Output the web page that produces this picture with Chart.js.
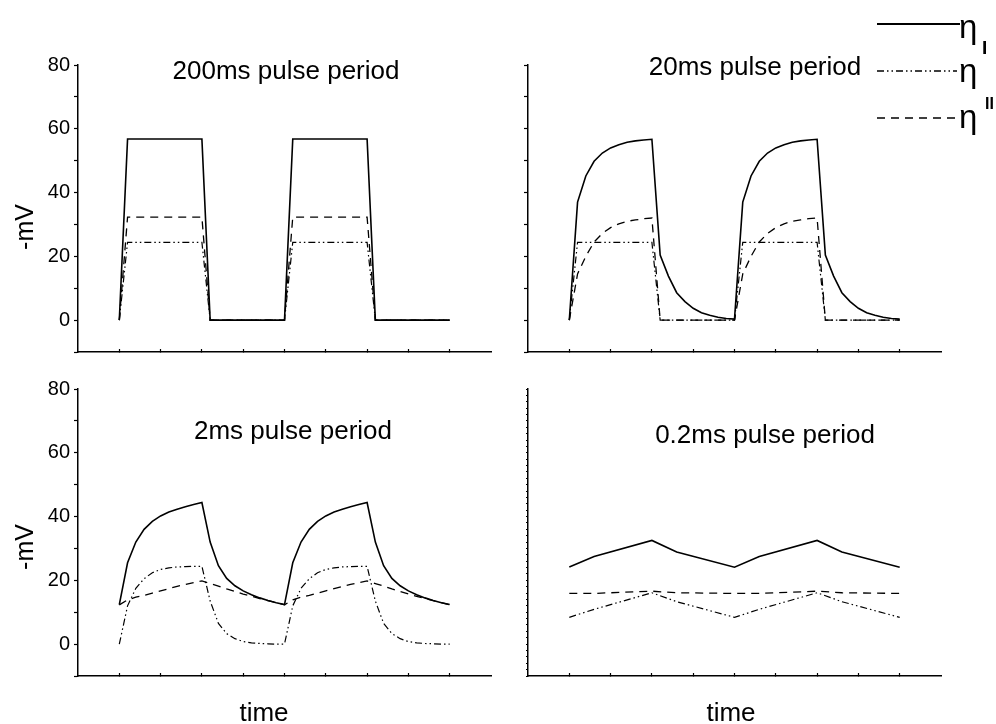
<!DOCTYPE html>
<html><head><meta charset="utf-8">
<script src="https://cdn.jsdelivr.net/npm/chart.js@4.4.1/dist/chart.umd.min.js"></script>
<style>
html,body{margin:0;padding:0;background:#fff;}
#wrap{position:relative;width:996px;height:724px;overflow:hidden;background:#fff;}
canvas{position:absolute;}
</style></head><body>
<div id="wrap">
<canvas id="c1" width="510" height="370" style="left:0px;top:0px"></canvas>
<canvas id="c2" width="486" height="370" style="left:510px;top:0px"></canvas>
<canvas id="c3" width="510" height="354" style="left:0px;top:370px"></canvas>
<canvas id="c4" width="486" height="354" style="left:510px;top:370px"></canvas>
</div>
<script>
// ---------- data ----------
const seriesNames = ["η_I", "η'", "η''"];
const panelTitles = ["200ms pulse period", "20ms pulse period", "2ms pulse period", "0.2ms pulse period"];
const yTickLabels = [0, 20, 40, 60, 80];

// 200 ms pulse period
const t200 = [0, 0.2, 2.0, 2.2, 4.0, 4.2, 6.0, 6.2, 8.0];
const p200EtaI  = [0, 56.8, 56.8, 0, 0, 56.8, 56.8, 0, 0];
const p200EtaP  = [0, 24.4, 24.4, 0, 0, 24.4, 24.4, 0, 0];
const p200EtaPP = [0, 32.3, 32.3, 0, 0, 32.3, 32.3, 0, 0];

// 20 ms and 2 ms pulse periods (sampled every 0.2 time units)
const tFine = [0,0.2,0.4,0.6,0.8,1.0,1.2,1.4,1.6,1.8,2.0,2.2,2.4,2.6,2.8,3.0,3.2,3.4,3.6,3.8,4.0,
               4.2,4.4,4.6,4.8,5.0,5.2,5.4,5.6,5.8,6.0,6.2,6.4,6.6,6.8,7.0,7.2,7.4,7.6,7.8,8.0];

const p20EtaI = [0,37,45.2,49.8,52.4,54.0,55.0,55.8,56.2,56.5,56.7,20.4,13.8,8.6,5.8,3.7,2.3,1.5,0.9,0.5,0.3,
                 37,45.2,49.8,52.4,54.0,55.0,55.8,56.2,56.5,56.7,20.4,13.8,8.6,5.8,3.7,2.3,1.5,0.9,0.5,0.3];
const p20EtaP = [0,24.4,24.4,24.4,24.4,24.4,24.4,24.4,24.4,24.4,24.4,0,0,0,0,0,0,0,0,0,0,
                 24.4,24.4,24.4,24.4,24.4,24.4,24.4,24.4,24.4,24.4,0,0,0,0,0,0,0,0,0,0];
const p20EtaPP = [0,14.5,20,24.5,27.2,29,30.2,31,31.4,31.8,32,0,0,0,0,0,0,0,0,0,0,
                  14.5,20,24.5,27.2,29,30.2,31,31.4,31.8,32,0,0,0,0,0,0,0,0,0,0];

const p2EtaI = [12.4,25.5,32,36,38.5,40.2,41.4,42.3,43.1,43.8,44.4,32,24.6,20.6,18.3,16.7,15.5,14.5,13.7,13.0,12.4,
                25.5,32,36,38.5,40.2,41.4,42.3,43.1,43.8,44.4,32,24.6,20.6,18.3,16.7,15.5,14.5,13.7,13.0,12.4];
const p2EtaP = [0,12,17.5,20.5,22.4,23.4,23.9,24.2,24.3,24.4,24.4,13.5,6.5,3.3,1.7,0.8,0.4,0.2,0.1,0,0,
                12,17.5,20.5,22.4,23.4,23.9,24.2,24.3,24.4,24.4,13.5,6.5,3.3,1.7,0.8,0.4,0.2,0.1,0,0];
const p2EtaPP = [12.3,13.9,14.7,15.3,16.0,16.7,17.4,18.1,18.7,19.3,19.8,19.0,18.2,17.3,16.5,15.7,15.0,14.3,13.6,13.0,12.3,
                 13.9,14.7,15.3,16.0,16.7,17.4,18.1,18.7,19.3,19.8,19.0,18.2,17.3,16.5,15.7,15.0,14.3,13.6,13.0,12.3];

// 0.2 ms pulse period
const t02 = [0, 0.6, 2.0, 2.6, 4.0, 4.6, 6.0, 6.6, 8.0];
const p02EtaI  = [24.2, 27.5, 32.5, 28.9, 24.1, 27.5, 32.5, 28.9, 24.1];
const p02EtaP  = [8.4, 10.9, 16.1, 13.3, 8.4, 10.9, 16.1, 13.3, 8.4];
const p02EtaPP = [15.9, 15.9, 16.6, 16.1, 15.9, 15.9, 16.6, 16.1, 15.9];

// ---------- styling ----------
const FONT = '"Liberation Sans", Arial, Helvetica, sans-serif';
const styles = [
  {borderColor:'#000', borderWidth:1.6, borderDash:[]},
  {borderColor:'#000', borderWidth:1.2, borderDash:[7,3,1.5,3,1.5,3]},
  {borderColor:'#000', borderWidth:1.3, borderDash:[8,6]}
];

function pts(t, v){ return t.map((x,i)=>({x:x, y:v[i]})); }

function textPlugin(id, items){
  return {id:id, afterDraw(chart){
    const ctx = chart.ctx;
    items.forEach(it=>{
      ctx.save();
      ctx.fillStyle = '#000';
      ctx.font = it.font;
      ctx.textAlign = it.align || 'left';
      ctx.textBaseline = 'alphabetic';
      ctx.translate(it.x, it.y);
      if (it.rot) ctx.rotate(it.rot);
      ctx.fillText(it.text, 0, 0);
      ctx.restore();
    });
  }};
}

function legendPlugin(){
  return {id:'etaLegend', afterDraw(chart){
    const ctx = chart.ctx;
    const rows = [
      {y:24, x0:367, x1:450, s:styles[0], lw:2.2, ty:38},
      {y:71, x0:367, x1:447, s:styles[1], lw:1.3, ty:82},
      {y:118, x0:367, x1:447, s:styles[2], lw:1.4, ty:128}
    ];
    rows.forEach(r=>{
      ctx.save();
      ctx.strokeStyle = '#000';
      ctx.lineWidth = r.lw;
      ctx.setLineDash(r.s.borderDash);
      ctx.beginPath(); ctx.moveTo(r.x0, r.y); ctx.lineTo(r.x1, r.y); ctx.stroke();
      ctx.restore();
      ctx.save();
      ctx.fillStyle = '#000';
      ctx.font = '33px ' + FONT;
      ctx.textBaseline = 'alphabetic';
      ctx.fillText('η', 449, r.ty);
      ctx.restore();
    });
    ctx.save();
    ctx.fillStyle = '#000';
    ctx.font = 'bold 19px ' + FONT;
    ctx.fillText('I', 472, 54);
    ctx.font = 'bold 16px ' + FONT;
    ctx.fillText('II', 475, 109);
    ctx.restore();
  }};
}

function makePanel(id, t, eI, eP, ePP, cfg){
  const ds = [
    Object.assign({label:seriesNames[2], data:pts(t, ePP)}, styles[2]),
    Object.assign({label:seriesNames[1], data:pts(t, eP)}, styles[1]),
    Object.assign({label:seriesNames[0], data:pts(t, eI)}, styles[0])
  ];
  ds.forEach(d=>{ d.pointRadius = 0; d.fill = false; d.tension = 0; });
  return new Chart(document.getElementById(id), {
    type:'line',
    data:{datasets:ds},
    options:{
      responsive:false, animation:false, devicePixelRatio:1,
      layout:{autoPadding:false, padding:cfg.padding},
      plugins:{legend:{display:false}, tooltip:{enabled:false}, title:{display:false}},
      scales:{
        x:{type:'linear', min:-1, max:9,
           ticks:{count:11, display:false, autoSkip:false},
           grid:{drawOnChartArea:false, drawTicks:true, tickLength:-3, tickWidth:1.2,
                 tickColor:(c)=> (c.tick && c.tick.value > -0.5 && c.tick.value < 8.5) ? '#000' : 'rgba(0,0,0,0)'},
           border:{display:true, color:'#000', width:1.5},
           afterFit:(s)=>{ s.height = 0; }},
        y:{type:'linear', min:-10, max:80,
           ticks:{count:cfg.yCount, display:cfg.labels, autoSkip:false, color:'#000', padding:4,
                  font:{family:FONT, size:20},
                  callback:(v)=>{ const r = Math.round(v); return yTickLabels.includes(r) && Math.abs(v-r)<1e-6 ? String(r) : ''; }},
           grid:{drawOnChartArea:false, drawTicks:true, tickLength:cfg.tickLen, tickWidth:1.2, tickColor:'#000'},
           border:{display:true, color:'#000', width:1.5},
           afterFit:(s)=>{ s.width = cfg.yW; }}
      }
    },
    plugins: cfg.plugins
  });
}

makePanel('c1', t200, p200EtaI, p200EtaP, p200EtaPP, {
  padding:{left:0, top:65, right:19, bottom:18}, yW:78, yCount:10, labels:true, tickLen:4,
  plugins:[textPlugin('t1', [
    {text:panelTitles[0], x:286, y:79, align:'center', font:'26px '+FONT},
    {text:'-mV', x:33, y:227, align:'center', rot:-Math.PI/2, font:'25px '+FONT}
  ])]
});
makePanel('c2', tFine, p20EtaI, p20EtaP, p20EtaPP, {
  padding:{left:0, top:65, right:55, bottom:18}, yW:18, yCount:10, labels:false, tickLen:4,
  plugins:[textPlugin('t2', [
    {text:panelTitles[1], x:245, y:75, align:'center', font:'26px '+FONT}
  ]), legendPlugin()]
});
makePanel('c3', tFine, p2EtaI, p2EtaP, p2EtaPP, {
  padding:{left:0, top:19, right:19, bottom:48}, yW:78, yCount:10, labels:true, tickLen:4,
  plugins:[textPlugin('t3', [
    {text:panelTitles[2], x:293, y:69, align:'center', font:'26px '+FONT},
    {text:'-mV', x:33, y:177, align:'center', rot:-Math.PI/2, font:'25px '+FONT},
    {text:'time', x:264, y:351, align:'center', font:'26px '+FONT}
  ])]
});
makePanel('c4', t02, p02EtaI, p02EtaP, p02EtaPP, {
  padding:{left:0, top:19, right:55, bottom:48}, yW:18, yCount:46, labels:false, tickLen:2,
  plugins:[textPlugin('t4', [
    {text:panelTitles[3], x:255, y:73, align:'center', font:'26px '+FONT},
    {text:'time', x:221, y:351, align:'center', font:'26px '+FONT}
  ])]
});
</script>
</body></html>
